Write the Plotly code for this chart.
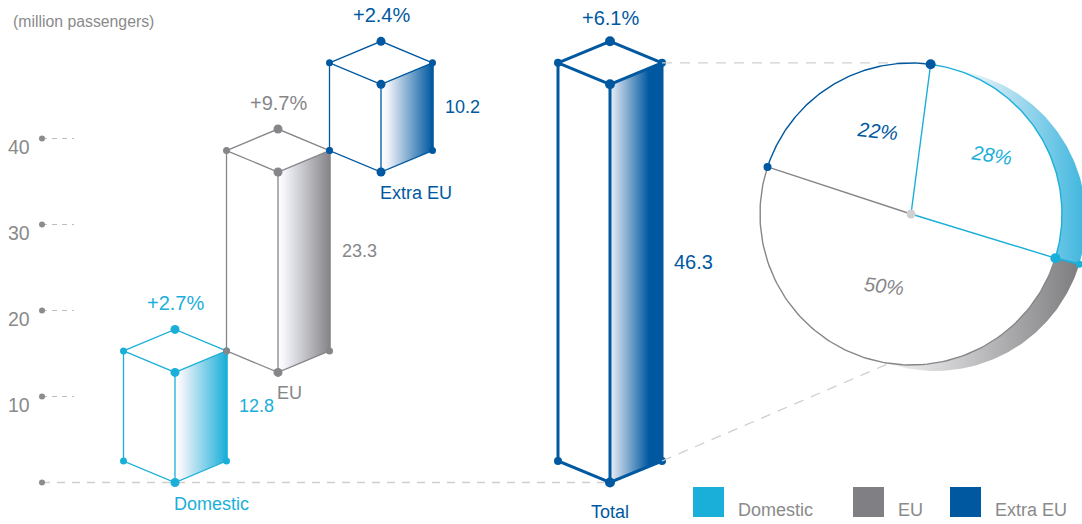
import numpy as np
import plotly.graph_objects as go

# ---------------- data ----------------
categories = ["Domestic", "EU", "Extra EU"]
values = [12.8, 23.3, 10.2]
growth = ["+2.7%", "+9.7%", "+2.4%"]
total_label = "Total"
total_growth = "+6.1%"
share_labels = ["28%", "22%", "50%"]        # Domestic, Extra EU, EU
tick_values = [10, 20, 30, 40]
unit_label = "(million passengers)"

# ---------------- style ----------------
LB, GR, DB = "#1aafd9", "#86868a", "#0059a0"
cat_colors = [LB, GR, DB]
TXT_GRAY = "#8a8a8a"
FONT = "Liberation Sans, Arial, sans-serif"
W, H = 1082, 524
Y0_PX = 482.5          # pixel row of value 0
PX = 8.6               # pixels per unit
HW = 51.5              # iso half width (px along x)
D = 21.5 / PX          # iso rise (units)


def v_of_px(py):
    return (Y0_PX - py) / PX


fig = go.Figure()


def line(xs, ys, color, width, dash=None):
    fig.add_trace(go.Scatter(x=xs, y=ys, mode="lines",
                             line=dict(color=color, width=width, dash=dash),
                             hoverinfo="skip", showlegend=False))


def dots(xs, ys, color, size):
    fig.add_trace(go.Scatter(x=xs, y=ys, mode="markers",
                             marker=dict(color=color, size=size, line=dict(width=0)),
                             hoverinfo="skip", showlegend=False))


def text(x, y, s, color, size, xanchor="center", yshift=0, italic=False, angle=0):
    fig.add_annotation(x=x, y=y, text=s, showarrow=False, xanchor=xanchor,
                       yanchor="middle", yshift=yshift, textangle=angle,
                       font=dict(family=FONT, size=size, color=color,
                                 style="italic" if italic else "normal"))


# ---------------- axis decorations ----------------
line([42, 610], [0, 0], "#cfcfcf", 1.3, dash="8px,7px")
dots([42], [0], "#8c8c8c", 6)
for tv in tick_values:
    line([42, 74], [tv, tv], "#bdbdbd", 1.2, dash="5px,5px")
    dots([42], [tv], "#8c8c8c", 6)
    text(32, tv, str(tv), TXT_GRAY, 19.5, xanchor="right", yshift=-8)

fig.add_annotation(x=11 / W, y=1 - 21 / H, xref="paper", yref="paper", text=unit_label,
                   showarrow=False, xanchor="left", yanchor="middle",
                   font=dict(family=FONT, size=15.8, color=TXT_GRAY))


# ---------------- boxes ----------------
def box(xc, base, top, color, lw, hw, grad, big, small, thick_right):
    fb, ft = (xc, base), (xc, top)
    lb, lt = (xc - hw, base + D), (xc - hw, top + D)
    rb, rt = (xc + hw, base + D), (xc + hw, top + D)
    bt = (xc, top + 2 * D)
    fig.add_trace(go.Scatter(x=[fb[0], rb[0], rt[0], ft[0], fb[0]],
                             y=[fb[1], rb[1], rt[1], ft[1], fb[1]],
                             mode="lines", fill="toself", line=dict(width=0),
                             fillgradient=dict(type="horizontal", colorscale=grad),
                             hoverinfo="skip", showlegend=False))
    segs = [[ft, lt, bt, rt, ft], [lt, lb, fb, rb], [ft, fb]]
    xs, ys = [], []
    for s in segs:
        xs += [p[0] for p in s] + [None]
        ys += [p[1] for p in s] + [None]
    line(xs, ys, color, lw)
    line([rt[0], rb[0]], [rt[1], rb[1]], color, thick_right)
    dots([lt[0], rt[0], lb[0], rb[0]], [lt[1], rt[1], lb[1], rb[1]], color, small)
    dots([ft[0], bt[0], fb[0]], [ft[1], bt[1], fb[1]], color, big)
    return fb, ft, lb, lt, rb, rt, bt


base = 0.0
for i, (cat, val, g, col) in enumerate(zip(categories, values, growth, cat_colors)):
    xc = 175 + 2 * HW * i
    top = base + val
    grad = [[0, "#ffffff"], [0.12, "#f4f5fa"], [1, col]]
    box(xc, base, top, col, 1.3, HW, grad, 9, 7, 2.6)
    text(xc, top + 2 * D, g, col, 20, yshift=26)
    text(xc + HW + 10, base + D + val / 2, f"{val:.1f}", col, 18, xanchor="left")
    text(xc - 3, base, cat, col, 18, xanchor="left", yshift=-21)
    base = top

total = round(sum(values), 1)
xt = 610
grad_t = [[0, "#eef0f7"], [0.75, DB], [1, DB]]
tb = box(xt, 0, total, DB, 3, 52, grad_t, 10, 8, 3)
text(xt, total + 2 * D, total_growth, DB, 20, yshift=23)
text(xt + 52 + 10, D + total / 2, f"{total:.1f}", DB, 20, xanchor="left")
text(xt, 0, total_label, DB, 18, yshift=-29)

# ---------------- 3D pie ----------------
CX, CY, R = 911.0, 214.0, 151.0
OX, OY = 24.0, 6.0
start = -17.0
shares = [values[0] / total, values[2] / total, values[1] / total]  # Domestic, Extra EU, EU
b = [start]
for s in shares:
    b.append(b[-1] + 360 * s)


def circ(a_deg, ox=0.0, oy=0.0):
    a = np.radians(a_deg)
    return CX + ox + R * np.cos(a), v_of_px(CY + oy - R * np.sin(a))


def arc(a0, a1, ox=0.0, oy=0.0, n=120):
    aa = np.linspace(a0, a1, n)
    pts = [circ(a, ox, oy) for a in aa]
    return [p[0] for p in pts], [p[1] for p in pts]


# connectors (drawn under the pie)
ptop = circ(b[1])
line([tb[5][0], ptop[0]], [tb[5][1], tb[5][1]], "#cfcfcf", 1.3, dash="10px,8px")
pbot = circ(-108, OX, OY)
line([tb[4][0], pbot[0]], [tb[4][1], pbot[1]], "#cfcfcf", 1.3, dash="10px,8px")

# side bands
for a0, a1, cs in [(b[1], b[0], [[0, "#ffffff"], [0.35, "#d6ecf6"], [1, "#3db6de"]]),
                   (b[0], -110, [[0, "#ffffff"], [0.4, "#d2d2d4"], [1, "#7d7d80"]])]:
    ox_, oy_ = arc(a0, a1, OX, OY)
    ix_, iy_ = arc(a1, a0)
    fig.add_trace(go.Scatter(x=ox_ + ix_ + [ox_[0]], y=oy_ + iy_ + [oy_[0]], mode="lines",
                             fill="toself", line=dict(width=0),
                             fillgradient=dict(type="horizontal", colorscale=cs),
                             hoverinfo="skip", showlegend=False))

# top face
fx, fy = arc(0, 360, n=361)
fig.add_trace(go.Scatter(x=fx, y=fy, mode="lines", fill="toself", fillcolor="white",
                         line=dict(width=0), hoverinfo="skip", showlegend=False))
# outline arcs
ax, ay = arc(b[0], b[1]); line(ax, ay, LB, 1.4)
ax, ay = arc(b[1], b[2]); line(ax, ay, DB, 1.4)
ax, ay = arc(b[2], b[3]); line(ax, ay, GR, 1.4)
# spokes
c = (CX, v_of_px(CY))
p0, p1, p2 = circ(b[0]), circ(b[1]), circ(b[2])
line([c[0], p0[0]], [c[1], p0[1]], LB, 1.4)
line([c[0], p1[0]], [c[1], p1[1]], LB, 1.4)
line([c[0], p2[0]], [c[1], p2[1]], GR, 1.4)
# band divider
q0 = circ(b[0], OX, OY)
line([p0[0], q0[0]], [p0[1], q0[1]], LB, 1.6)
dots([c[0]], [c[1]], "#d0d0d0", 9)
dots([p1[0]], [p1[1]], DB, 10)
dots([p2[0]], [p2[1]], DB, 8)
dots([p0[0]], [p0[1]], LB, 10)
dots([q0[0]], [q0[1]], LB, 7)

# pie labels
text(877, v_of_px(131), share_labels[1], DB, 20, italic=True, angle=6)
text(991, v_of_px(155), share_labels[0], LB, 20, italic=True, angle=8)
text(884, v_of_px(286), share_labels[2], GR, 20, italic=True, angle=6)

# ---------------- legend ----------------
leg = [(693, categories[0], LB), (853, categories[1], "#808084"), (950, categories[2], DB)]
for lx, name, col in leg:
    fig.add_shape(type="rect", xref="x", yref="paper", x0=lx, x1=lx + 31,
                  y0=1 - 517 / H, y1=1 - 487 / H, fillcolor=col, line=dict(width=0))
    fig.add_annotation(x=lx + 43, y=1 - 510 / H, xref="x", yref="paper", text=name,
                       showarrow=False, xanchor="left", yanchor="middle",
                       font=dict(family=FONT, size=18, color=TXT_GRAY))

fig.update_layout(
    width=W, height=H, margin=dict(l=0, r=0, t=0, b=0),
    paper_bgcolor="white", plot_bgcolor="white",
    xaxis=dict(range=[0, W], visible=False, fixedrange=True),
    yaxis=dict(range=[v_of_px(H), v_of_px(0)], visible=False, fixedrange=True),
    showlegend=False,
)

fig.write_html("out.html")
